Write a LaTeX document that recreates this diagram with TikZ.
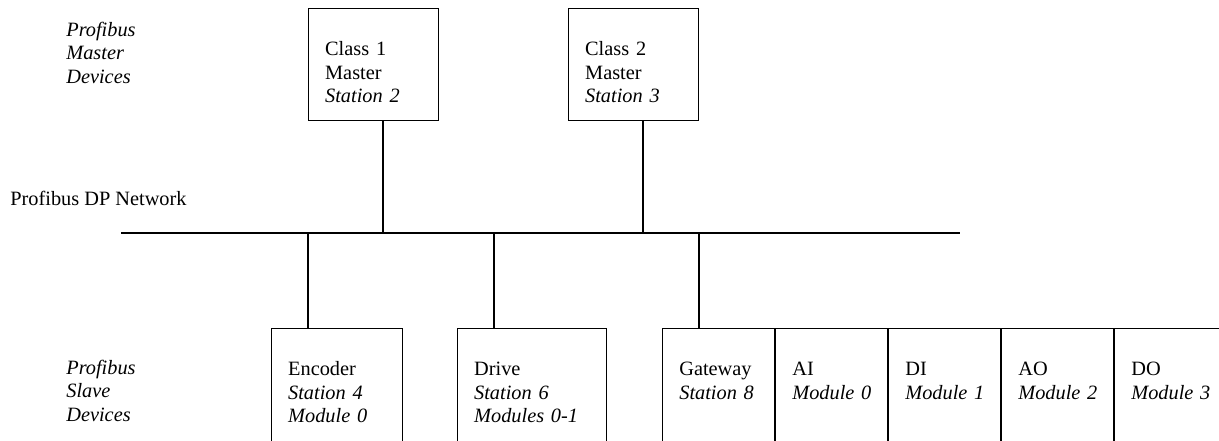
\documentclass[tikz,border=0pt]{standalone}
\usepackage{fontspec}
\setmainfont{Liberation Serif}

\begin{document}
\begin{tikzpicture}[
  x=0.6pt,y=-0.6pt,
  font=\fontsize{12.2}{14.1}\selectfont,
  dev/.style={draw,line width=0.6pt,anchor=north west,align=left,
              inner xsep=10pt,inner ysep=0pt,text height=28.2pt},
  master/.style={dev,text width=58pt,text depth=39pt},
  slave/.style={dev,text depth=70pt},
  modbox/.style={slave,line width=0.8pt,text width=47pt},
  tag/.style={anchor=base west,align=left,inner sep=0pt,text width=60pt},
  wire/.style={line width=0.9pt}
]
\useasboundingbox (0,0) rectangle (1219,440);
\clip (0,0) rectangle (1219,440);

\node[tag,font=\fontsize{12.2}{14.1}\selectfont\itshape] (mtag) at (66,36) {Profibus\\Master\\Devices};
\node[tag,font=\fontsize{12.2}{14.1}\selectfont\itshape] (stag) at (66,374) {Profibus\\Slave\\Devices};
\node[tag,text width=] (net) at (10,205) {Profibus DP Network};

% masters
\node[master] (cls1) at (308,8)  {Class~1\\Master\\\textit{Station~2}};
\node[master] (cls2) at (568,8)  {Class~2\\Master\\\textit{Station~3}};

% slaves
\node[slave,text width=58.6pt] (enc) at (271,328) {Encoder\\\textit{Station~4}\\\textit{Module~0}};
\node[slave,text width=69.4pt] (drv) at (457,328) {Drive\\\textit{Station~6}\\\textit{Modules~0-1}};
\node[modbox] (gw) at (662,328)       {Gateway\\\textit{Station~8}};
\node[modbox] (ai) at (gw.north east) {AI\\\textit{Module~0}};
\node[modbox] (di) at (ai.north east) {DI\\\textit{Module~1}};
\node[modbox] (ao) at (di.north east) {AO\\\textit{Module~2}};
\node[modbox,text width=56pt] (do) at (ao.north east) {DO\\\textit{Module~3}};

% bus
\coordinate (busL) at (121,233);
\coordinate (busR) at (960,233);
\coordinate (tc1) at (383,233);
\coordinate (tc2) at (643,233);
\coordinate (tenc) at (308,233);
\coordinate (tdrv) at (494,233);
\coordinate (tgw) at (699,233);
\draw[wire] (busL) -- (busR);
\draw[wire] (cls1.south -| tc1) -- (tc1);
\draw[wire] (cls2.south -| tc2) -- (tc2);
\draw[wire] (tenc) -- (tenc |- enc.north);
\draw[wire] (tdrv) -- (tdrv |- drv.north);
\draw[wire] (tgw) -- (tgw |- gw.north);
\end{tikzpicture}
\end{document}
